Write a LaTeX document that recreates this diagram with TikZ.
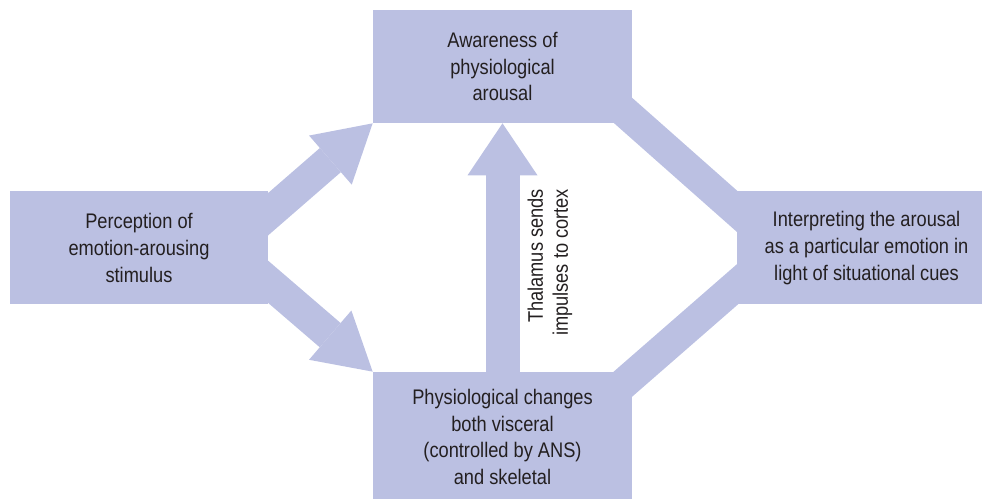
\documentclass[tikz,border=0pt]{standalone}
\usepackage{fontspec}
\setmainfont{Liberation Sans}[FakeStretch=0.865]
\usepackage{tikz}
\usetikzlibrary{arrows.meta,positioning,calc}
\definecolor{emoFill}{RGB}{187,192,226}
\definecolor{emoText}{RGB}{35,31,32}

\begin{document}
\begin{tikzpicture}[
      box/.style={fill=emoFill,text=emoText,inner sep=0pt,align=center,font=\fontsize{12}{15.3}\selectfont},
      blk/.style={line width=0.64cm,draw=emoFill,-{Triangle[length=1.12cm,width=1.3cm,line width=0pt]}},
      upblk/.style={line width=0.68cm,draw=emoFill,-{Triangle[length=1.04cm,width=1.4cm,line width=0pt]}},
      band/.style={line width=0.62cm,draw=emoFill}
    ]
    \clip (0,0) rectangle (19.64,9.96);
    \node[box,minimum width=5.18cm,minimum height=2.26cm] (aware)  at (10.05,8.63) {Awareness of\\physiological\\arousal};
    \node[box,minimum width=5.16cm,minimum height=2.26cm] (percep) at (2.78,5.0)   {Perception of\\emotion-arousing\\stimulus};
    \node[box,minimum width=5.18cm,minimum height=2.26cm] (interp) at (17.33,5.0)  {Interpreting the arousal\\as a particular emotion in\\light of situational cues};
    \node[box,minimum width=5.18cm,minimum height=2.6cm]  (physio) at (10.05,1.22) {Physiological changes\\both visceral\\(controlled by ANS)\\and skeletal};
    \node[text=emoText,rotate=90,align=right,inner sep=0pt,font=\fontsize{12}{14.2}\selectfont] (thal) at (11.0,4.71) {Thalamus sends\\impulses to cortex};
    \draw[blk,shorten <=-0.5cm] ([yshift=0.68cm]percep.east) -- (aware.south west);
    \draw[blk,shorten <=-0.5cm] ([yshift=-0.68cm]percep.east) -- (physio.north west);
    \draw[upblk,shorten <=-0.3cm] (physio.north) -- (aware.south);
    \draw[band,shorten <=-0.4cm,shorten >=-0.6cm] ([shift={(-0.2cm,0.27cm)}]aware.south east) -- ([yshift=0.74cm]interp.west);
    \draw[band,shorten <=-0.4cm,shorten >=-0.6cm] ([shift={(-0.2cm,-0.26cm)}]physio.north east) -- ([yshift=-0.74cm]interp.west);
  \end{tikzpicture}
\end{document}
